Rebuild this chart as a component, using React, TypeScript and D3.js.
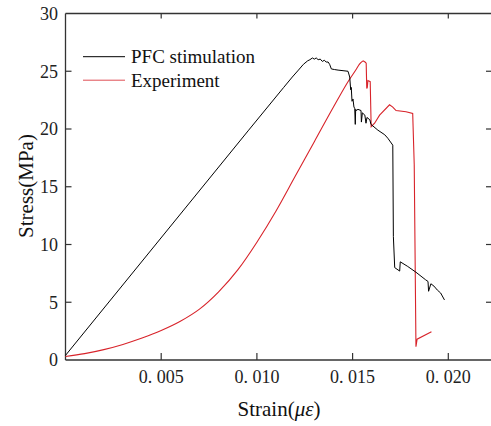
import React from "react";
import * as d3 from "d3";

const pfcStrain = [0, 0.00957, 0.01140, 0.01185, 0.01217, 0.01243, 0.01265, 0.01277, 0.01290, 0.01300, 0.01310, 0.01320, 0.01331, 0.01342, 0.01352, 0.01362, 0.01372, 0.01380, 0.01389, 0.01405, 0.01424, 0.01450, 0.01476, 0.01485, 0.01490, 0.01493, 0.01497, 0.01502, 0.01507, 0.01511, 0.01514, 0.01516, 0.01518, 0.01528, 0.01544, 0.01546, 0.01551, 0.01564, 0.01570, 0.01575, 0.01590, 0.01596, 0.01632, 0.01668, 0.01684, 0.01710, 0.01713, 0.01720, 0.01746, 0.01749, 0.01788, 0.01831, 0.01881, 0.01894, 0.01897, 0.01909, 0.01925, 0.01943, 0.01960, 0.01980];
const pfcStress = [0.4, 19.9, 23.6, 24.5, 25.1, 25.6, 25.9, 26.0, 26.15, 26.05, 26.15, 26.0, 26.05, 25.85, 25.95, 25.8, 25.8, 25.6, 25.2, 25.15, 25.1, 25.05, 25.0, 24.5, 23.4, 23.6, 22.4, 22.6, 21.9, 21.8, 20.4, 21.7, 21.6, 21.7, 21.6, 20.6, 21.4, 21.2, 20.5, 21.0, 20.8, 20.4, 19.9, 19.5, 19.2, 18.6, 10.7, 8.0, 7.7, 8.5, 8.1, 7.6, 6.95, 6.8, 5.95, 6.6, 6.4, 6.05, 5.8, 5.2];

// smooth rising branch of the experiment curve (up to the peak)
const expRiseStrain = [0, 0.001, 0.002, 0.003, 0.004, 0.005, 0.006, 0.007, 0.008, 0.009, 0.010, 0.011, 0.012, 0.013, 0.014, 0.0148, 0.0152, 0.01535, 0.01554];
const expRiseStress = [0.3, 0.55, 0.9, 1.35, 1.9, 2.55, 3.35, 4.4, 5.9, 7.8, 10.2, 12.9, 15.9, 18.9, 21.9, 24.2, 25.2, 25.6, 25.9];
// post-peak branch of the experiment curve
const expPostStrain = [0.01554, 0.01565, 0.01571, 0.01574, 0.01577, 0.01580, 0.01592, 0.01597, 0.01615, 0.01641, 0.01693, 0.01710, 0.01727, 0.01779, 0.01814, 0.01822, 0.01831, 0.01837, 0.01912];
const expPostStress = [25.9, 25.8, 25.7, 23.5, 23.6, 24.2, 24.1, 20.2, 20.5, 21.2, 22.1, 21.9, 21.6, 21.5, 21.35, 16.9, 1.15, 1.8, 2.45];

const yTicks = [0, 5, 10, 15, 20, 25, 30];
const xTicks = [0.005, 0.01, 0.015, 0.02];
const xTickLabels = ["0. 005", "0. 010", "0. 015", "0. 020"];
const seriesNames = ["PFC stimulation", "Experiment"];
const seriesColors = ["#000000", "#d8232a"];

const FONT = '"Liberation Serif", "Times New Roman", serif';

export default function App() {
  const left = 65.5;
  const right = 491.5;
  const top = 13.5;
  const bottom = 360;
  const x = d3.scaleLinear().domain([0, (right - left) / 19140]).range([left, right]);
  const y = d3.scaleLinear().domain([0, 30]).range([bottom, top]);

  const line = d3
    .line<[number, number]>()
    .x((d) => x(d[0]))
    .y((d) => y(d[1]));
  const smooth = d3
    .line<[number, number]>()
    .x((d) => x(d[0]))
    .y((d) => y(d[1]))
    .curve(d3.curveMonotoneX);

  const pfc: [number, number][] = pfcStrain.map((s, i) => [s, pfcStress[i]]);
  const expRise: [number, number][] = expRiseStrain.map((s, i) => [s, expRiseStress[i]]);
  const expPost: [number, number][] = expPostStrain.map((s, i) => [s, expPostStress[i]]);
  const axisColor = "#333";

  return (
    <svg
      width={491}
      height={426}
      style={{ position: "absolute", left: 0, top: 0, background: "#fff" }}
      fontFamily={FONT}
    >
      <rect x={0} y={0} width={491} height={426} fill="#fff" />
      <line x1={left} x2={left} y1={top} y2={bottom} stroke={axisColor} strokeWidth={1.3} />
      <line x1={left} x2={right} y1={bottom} y2={bottom} stroke={axisColor} strokeWidth={1.3} />
      <line x1={left} x2={right} y1={top} y2={top} stroke={axisColor} strokeWidth={1.3} />

      {yTicks.map((t) => (
        <g key={"y" + t}>
          {t > 0 && t < 30 && (
            <>
              <line x1={left} x2={left + 6} y1={y(t)} y2={y(t)} stroke={axisColor} strokeWidth={1.2} />
              <line x1={486} x2={491} y1={y(t)} y2={y(t)} stroke={axisColor} strokeWidth={1.2} />
            </>
          )}
          <text x={58} y={y(t)} dy="0.35em" textAnchor="end" fontSize={18} fill="#222">
            {t}
          </text>
        </g>
      ))}

      {xTicks.map((t, i) => (
        <g key={"x" + t}>
          <line x1={x(t)} x2={x(t)} y1={bottom} y2={bottom - 7} stroke={axisColor} strokeWidth={1.2} />
          <line x1={x(t)} x2={x(t)} y1={top} y2={top + 5} stroke={axisColor} strokeWidth={1.2} />
          <text x={x(t)} y={383} textAnchor="middle" fontSize={18} fill="#222">
            {xTickLabels[i]}
          </text>
        </g>
      ))}

      <path d={smooth(expRise) || ""} fill="none" stroke={seriesColors[1]} strokeWidth={1.1} />
      <path d={line(expPost) || ""} fill="none" stroke={seriesColors[1]} strokeWidth={1.1} />
      <path d={line(pfc) || ""} fill="none" stroke={seriesColors[0]} strokeWidth={1} />

      {seriesNames.map((n, i) => (
        <g key={n}>
          <line x1={83} x2={125} y1={56.7 + i * 23.5} y2={56.7 + i * 23.5} stroke={seriesColors[i]} strokeWidth={1} opacity={i === 1 ? 0.8 : 1} />
          <text x={131} y={62.7 + i * 24.3} fontSize={19} fill="#111">
            {n}
          </text>
        </g>
      ))}

      <text x={279} y={416} textAnchor="middle" fontSize={21} fill="#111">
        Strain(<tspan fontStyle="italic">με</tspan>)
      </text>
      <text transform="translate(33,186) rotate(-90)" textAnchor="middle" fontSize={21} fill="#111">
        Stress(MPa)
      </text>
    </svg>
  );
}
